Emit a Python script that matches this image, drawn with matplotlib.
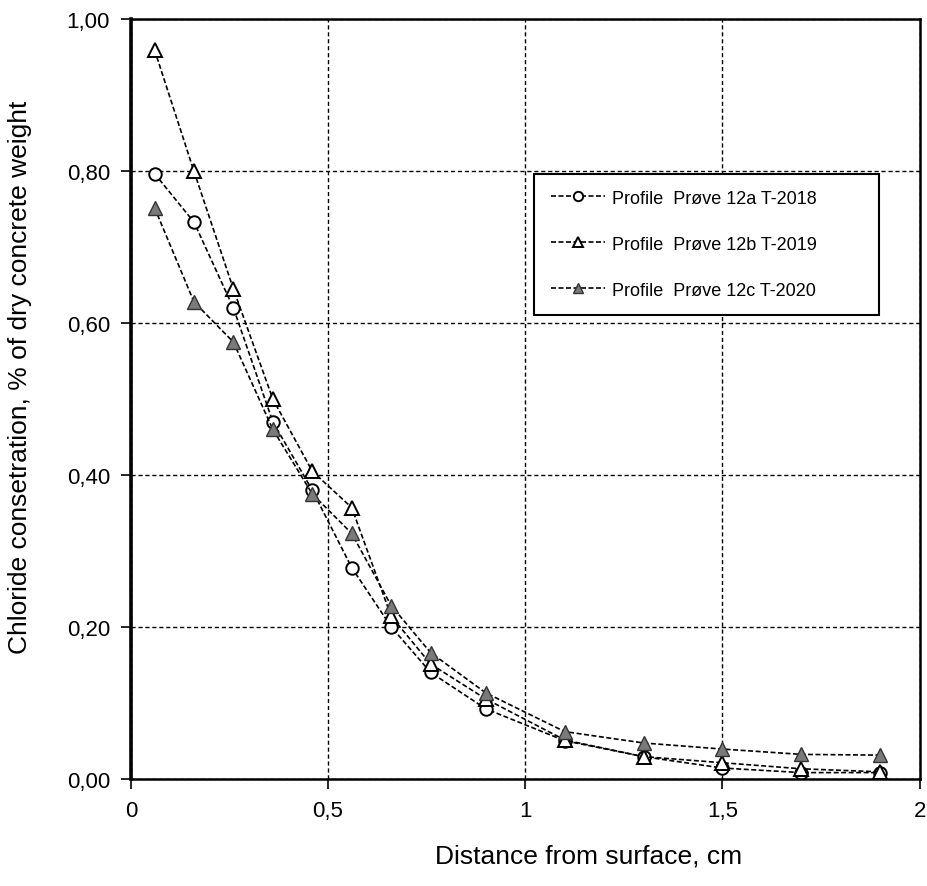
import matplotlib.pyplot as plt
from matplotlib.ticker import FuncFormatter

plt.rcParams['font.family'] = ['Liberation Sans', 'DejaVu Sans']

x = [0.06, 0.16, 0.26, 0.36, 0.46, 0.56, 0.66, 0.76, 0.9, 1.1, 1.3, 1.5, 1.7, 1.9]
prove_12a = [0.797, 0.733, 0.62, 0.47, 0.38, 0.278, 0.20, 0.14, 0.092, 0.05, 0.029, 0.014, 0.008, 0.008]
prove_12b = [0.96, 0.80, 0.645, 0.50, 0.405, 0.357, 0.214, 0.151, 0.105, 0.051, 0.029, 0.021, 0.013, 0.009]
prove_12c = [0.752, 0.628, 0.575, 0.46, 0.375, 0.323, 0.228, 0.166, 0.113, 0.062, 0.047, 0.039, 0.032, 0.031]
labels = ['Profile  Prøve 12a T-2018', 'Profile  Prøve 12b T-2019', 'Profile  Prøve 12c T-2020']

fig = plt.figure(figsize=(9.28, 8.87), dpi=100)
ax = fig.add_axes([0.141, 0.121, 0.85, 0.856])

ls = (0, (3, 1.5))
ax.plot(x, prove_12a, color='black', lw=1.2, ls=ls, marker='o', ms=9,
        mfc='white', mec='black', mew=1.4, label=labels[0])
ax.plot(x, prove_12b, color='black', lw=1.2, ls=ls, marker='^', ms=10,
        mfc='white', mec='black', mew=1.4, label=labels[1])
ax.plot(x, prove_12c, color='black', lw=1.2, ls=ls, marker='^', ms=10,
        mfc='#7a7a7a', mec='#333333', mew=1.0, label=labels[2])

ax.set_xlim(0, 2)
ax.set_ylim(0, 1.0)
ax.set_xticks([0, 0.5, 1, 1.5, 2])
ax.set_yticks([0, 0.2, 0.4, 0.6, 0.8, 1.0])
ax.xaxis.set_major_formatter(FuncFormatter(lambda v, p: ('%g' % v).replace('.', ',')))
ax.yaxis.set_major_formatter(FuncFormatter(lambda v, p: ('%.2f' % v).replace('.', ',')))
ax.tick_params(labelsize=16, length=7, width=1.2, direction='out', pad=8)
ax.grid(True, color='black', ls=(0, (3, 2)), lw=1.0)
for s in ax.spines.values():
    s.set_linewidth(1.8)
ax.spines['left'].set_linewidth(2.6)

ax.set_xlabel('Distance from surface, cm', fontsize=19)
ax.xaxis.set_label_coords(0.58, -0.085)
ax.set_ylabel('Chloride consetration, % of dry concrete weight', fontsize=19)
ax.yaxis.set_label_coords(-0.125, 0.53)

leg = ax.legend(loc='center', bbox_to_anchor=(0.5, 0.605, 0.46, 0.198), mode='expand',
                alignment='center', fontsize=13, frameon=True, fancybox=False,
                edgecolor='black', framealpha=1, labelspacing=1.6, handlelength=3.0,
                handletextpad=0.4, borderpad=0.9, markerscale=0.75)
leg.get_frame().set_linewidth(1.5)

fig.savefig('out.png', dpi=100, facecolor='white')
